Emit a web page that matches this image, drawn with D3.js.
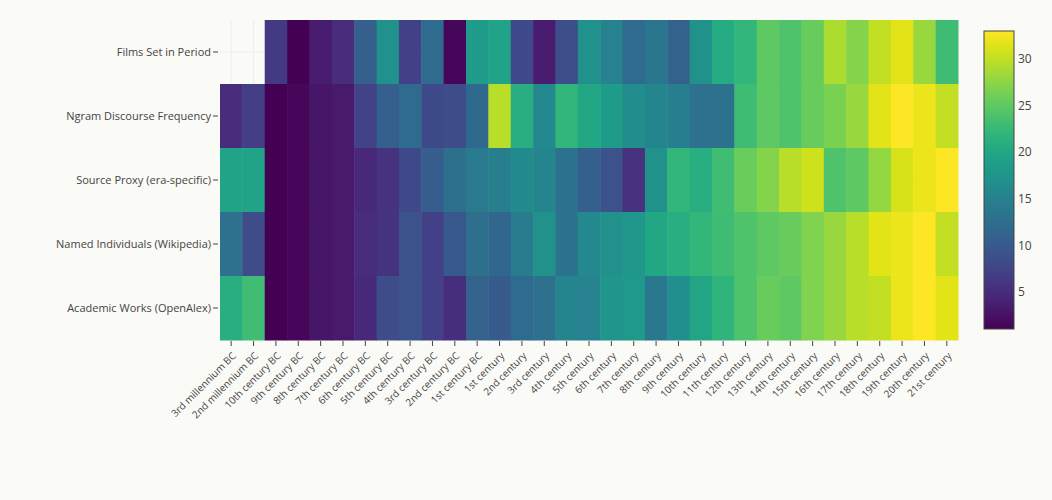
<!DOCTYPE html>
<html>
<head>
<meta charset="utf-8">
<script src="https://cdn.jsdelivr.net/npm/d3@7"></script>
<style>
  body { margin: 0; background: #fafaf6; }
  text { font-family: "Open Sans", "DejaVu Sans", sans-serif; fill: #444; }
</style>
</head>
<body>
<svg id="chart" width="1052" height="500"></svg>
<script>
// categories
var periods = ["3rd millennium BC", "2nd millennium BC", "10th century BC", "9th century BC",
  "8th century BC", "7th century BC", "6th century BC", "5th century BC", "4th century BC",
  "3rd century BC", "2nd century BC", "1st century BC", "1st century", "2nd century",
  "3rd century", "4th century", "5th century", "6th century", "7th century", "8th century",
  "9th century", "10th century", "11th century", "12th century", "13th century", "14th century",
  "15th century", "16th century", "17th century", "18th century", "19th century", "20th century",
  "21st century"];
var sources = ["Films Set in Period", "Ngram Discourse Frequency", "Source Proxy (era-specific)",
  "Named Individuals (Wikipedia)", "Academic Works (OpenAlex)"];

// values per source (null = no data)
var films = [null, null, 6.4, 1, 3.5, 5, 10.6, 17, 7, 12, 1.5, 18.5, 19.5, 8, 3.5, 8.5, 17,
  15, 12, 13.5, 11, 17, 20.5, 22, 25, 24, 25.5, 29, 27, 30, 31.5, 28, 23];
var ngram = [5, 6.8, 1, 1.5, 2.8, 3.2, 7.3, 10.5, 12, 8, 8.3, 11.8, 29.5, 21, 16, 22, 20,
  18.5, 16.5, 15.5, 14.5, 12.8, 13, 23, 25, 24, 25.5, 26.6, 28, 31.5, 33, 32, 30];
var proxy = [19.5, 19.5, 1, 1.5, 2.8, 3.2, 4.5, 5.5, 8, 10.3, 12.7, 14, 14.7, 16.3, 15.5, 13, 10.5,
  9, 5.5, 17, 22, 21, 23.2, 25.7, 27, 29.5, 30.5, 24, 25, 27.8, 31, 32, 33];
var named = [12.8, 8.3, 1, 1.5, 2.8, 3.2, 5, 5.7, 9, 7, 9.8, 12.5, 11.5, 14.3, 17, 13.2, 16,
  17, 18, 20, 21, 22, 23, 24, 25, 25.5, 26.8, 28, 29.5, 31.5, 32, 33, 30];
var academic = [21, 23.2, 1, 1.5, 2.8, 3.2, 4.5, 8.3, 9, 7, 5.2, 11, 10, 12, 12.8, 15.5, 15.2,
  17.7, 18.3, 13.8, 16.8, 19.8, 21.8, 24, 25.5, 25, 26.8, 28, 29.5, 30, 32, 33, 31.5];
var colorTicks = [5, 10, 15, 20, 25, 30];
var zMin = 1, zMax = 33;

var rows = [films, ngram, proxy, named, academic];
var cells = [];
rows.forEach(function(vals, r) {
  vals.forEach(function(v, c) {
    if (v !== null) cells.push({ source: sources[r], period: periods[c], value: v });
  });
});

var svg = d3.select("#chart");
var plotL = 220, plotR = 958, plotT = 20, plotB = 340;

var x = d3.scaleBand().domain(periods).range([plotL, plotR]);
var y = d3.scaleBand().domain(sources).range([plotT, plotB]);
var color = d3.scaleSequential(d3.interpolateViridis).domain([zMin, zMax]);

// faint gridlines (visible where no data)
svg.append("g").selectAll("line").data(periods).join("line")
  .attr("x1", d => x(d) + x.bandwidth() / 2).attr("x2", d => x(d) + x.bandwidth() / 2)
  .attr("y1", plotT).attr("y2", plotB).attr("stroke", "#eee").attr("stroke-width", 1);
svg.append("g").selectAll("line").data(sources).join("line")
  .attr("y1", d => y(d) + y.bandwidth() / 2).attr("y2", d => y(d) + y.bandwidth() / 2)
  .attr("x1", plotL).attr("x2", plotR).attr("stroke", "#eee").attr("stroke-width", 1);

// heat cells
svg.append("g").selectAll("rect").data(cells).join("rect")
  .attr("x", d => x(d.period))
  .attr("y", d => y(d.source))
  .attr("width", x.bandwidth() + 0.5)
  .attr("height", y.bandwidth() + 0.5)
  .attr("fill", d => color(d.value));

// y axis
var yAxis = svg.append("g").attr("transform", "translate(" + (plotL - 2) + ",0)")
  .call(d3.axisLeft(y).tickSize(5).tickPadding(2));
yAxis.select(".domain").remove();
yAxis.selectAll("line").attr("stroke", "#444");
yAxis.selectAll("text").style("font-size", "11px").attr("fill", "#444");

// x axis
var xAxis = svg.append("g").attr("transform", "translate(0," + (plotB + 1) + ")")
  .call(d3.axisBottom(x).tickSize(5).tickPadding(2));
xAxis.select(".domain").remove();
xAxis.selectAll("line").attr("stroke", "#444");
xAxis.selectAll("text")
  .style("font-size", "10px").attr("fill", "#444")
  .attr("text-anchor", "end")
  .attr("dy", "0.35em")
  .attr("transform", "translate(-2,8) rotate(-45)");

// colorbar
var cbX = 984, cbW = 30, cbTop = 31, cbBot = 329;
var cy = d3.scaleLinear().domain([zMin, zMax]).range([cbBot, cbTop]);
var grad = svg.append("defs").append("linearGradient").attr("id", "vir")
  .attr("x1", "0").attr("y1", "1").attr("x2", "0").attr("y2", "0");
d3.range(0, 1.0001, 0.05).forEach(function(t) {
  grad.append("stop").attr("offset", t).attr("stop-color", d3.interpolateViridis(t));
});
svg.append("rect").attr("x", cbX).attr("y", cbTop).attr("width", cbW).attr("height", cbBot - cbTop)
  .attr("fill", "url(#vir)").attr("stroke", "#444").attr("stroke-width", 1);
var cAxis = svg.append("g").attr("transform", "translate(" + (cbX + cbW) + ",0)")
  .call(d3.axisRight(cy).tickValues(colorTicks).tickSize(0).tickPadding(4));
cAxis.select(".domain").remove();
cAxis.selectAll("text").style("font-size", "12px").attr("fill", "#444");
</script>
</body>
</html>
